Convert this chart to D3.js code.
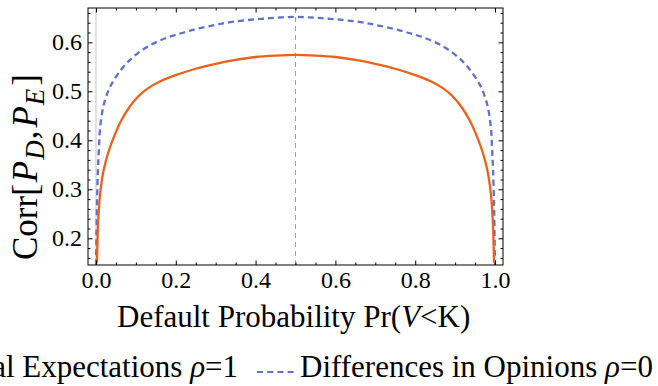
<!DOCTYPE html>
<html>
<head>
<meta charset="utf-8">
<script src="https://cdn.jsdelivr.net/npm/d3@7"></script>
<style>
  body { margin: 0; background: #fff; }
  svg { display: block; }
  text { font-family: "Liberation Serif", "Times New Roman", serif; fill: #000; }
</style>
</head>
<body>
<svg id="chart" width="658" height="386"></svg>
<script>
// tick values
const xTicks = [0, 0.2, 0.4, 0.6, 0.8, 1.0];
const yTicks = [0.2, 0.3, 0.4, 0.5, 0.6];

// rational expectations, rho = 1 (solid orange)
const rationalP = [0.0025, 0.005, 0.0075, 0.01, 0.015, 0.02, 0.03, 0.043, 0.063, 0.084, 0.105, 0.13, 0.16, 0.2, 0.25, 0.3, 0.35, 0.4, 0.45, 0.5,
  0.55, 0.6, 0.65, 0.7, 0.75, 0.8, 0.84, 0.87, 0.895, 0.916, 0.937, 0.957, 0.97, 0.98, 0.985, 0.99, 0.9925, 0.995, 0.9975];
const rationalCorr = [0.150, 0.225, 0.262, 0.288, 0.320, 0.342, 0.373, 0.403, 0.440, 0.468, 0.489, 0.506, 0.520, 0.533, 0.546, 0.556, 0.564, 0.570, 0.573, 0.5745,
  0.573, 0.570, 0.564, 0.556, 0.546, 0.533, 0.520, 0.506, 0.489, 0.468, 0.440, 0.403, 0.373, 0.342, 0.320, 0.288, 0.262, 0.225, 0.150];

// differences in opinions, rho = 0 (dashed blue)
const opinionsP = [0.0003, 0.001, 0.0025, 0.005, 0.0075, 0.01, 0.0175, 0.025, 0.034, 0.045, 0.063, 0.08, 0.105, 0.14, 0.18, 0.22, 0.256, 0.3, 0.336, 0.4, 0.45, 0.5,
  0.55, 0.6, 0.664, 0.7, 0.744, 0.78, 0.82, 0.86, 0.895, 0.92, 0.937, 0.955, 0.966, 0.975, 0.9825, 0.99, 0.9925, 0.995, 0.9975, 0.999, 0.9997];
const opinionsCorr = [0.145, 0.200, 0.270, 0.340, 0.385, 0.423, 0.466, 0.488, 0.507, 0.523, 0.544, 0.560, 0.578, 0.596, 0.610, 0.620, 0.628, 0.6355, 0.641, 0.647, 0.650, 0.652,
  0.650, 0.647, 0.641, 0.6355, 0.628, 0.620, 0.610, 0.596, 0.578, 0.560, 0.544, 0.523, 0.507, 0.488, 0.466, 0.423, 0.385, 0.340, 0.270, 0.200, 0.145];

const legendLabels = ["Rational Expectations ", "Differences in Opinions "];
const legendRho = ["1", "0"];

const orange = "#e8621e";
const blue = "#5f71c9";

let svg, x, y;

function setup() {
  svg = d3.select('#chart');
  x = d3.scaleLinear().domain([-0.02, 1.02]).range([88, 503]);
  y = d3.scaleLinear().domain([0.1455, 0.67]).range([265, 8]);

  svg.append('defs').append('clipPath').attr('id', 'frame-clip')
    .append('rect')
    .attr('x', 88).attr('y', 8)
    .attr('width', 415).attr('height', 257);
}

function drawGuides() {
  // vertical axis line at x = 0
  svg.append('line')
    .attr('x1', x(0)).attr('x2', x(0))
    .attr('y1', 8).attr('y2', 265)
    .attr('stroke', '#c4c4c4')
    .attr('stroke-width', 1);
  // dashed marker at 0.5
  svg.append('line')
    .attr('x1', x(0.5)).attr('x2', x(0.5))
    .attr('y1', 8).attr('y2', 265)
    .attr('stroke', '#a0a0a0')
    .attr('stroke-width', 1)
    .attr('stroke-dasharray', '5,4');
}

function drawAxes() {
  const xMinor = d3.range(0, 1.001, 0.05).filter(v => Math.abs(v * 5 - Math.round(v * 5)) > 1e-6);
  const yMinor = d3.range(0.16, 0.665, 0.02).filter(v => Math.abs(v * 10 - Math.round(v * 10)) > 1e-6);

  const axes = [
    { gen: d3.axisBottom, scale: x, pos: 'translate(0,265)', major: xTicks, minor: xMinor, labels: true },
    { gen: d3.axisTop, scale: x, pos: 'translate(0,8)', major: xTicks, minor: xMinor, labels: false },
    { gen: d3.axisLeft, scale: y, pos: 'translate(88,0)', major: yTicks, minor: yMinor, labels: true },
    { gen: d3.axisRight, scale: y, pos: 'translate(503,0)', major: yTicks, minor: yMinor, labels: false }
  ];

  axes.forEach(a => {
    const gMajor = svg.append('g')
      .attr('transform', a.pos)
      .call(a.gen(a.scale)
        .tickValues(a.major)
        .tickSizeInner(-4.5)
        .tickSizeOuter(0)
        .tickPadding(6)
        .tickFormat(a.labels ? d3.format('.1f') : ''));
    gMajor.attr('font-family', '"Liberation Serif", serif').attr('font-size', 24);
    gMajor.select('.domain').remove();
    gMajor.selectAll('text').attr('fill', '#000');

    const gMinor = svg.append('g')
      .attr('transform', a.pos)
      .call(a.gen(a.scale)
        .tickValues(a.minor)
        .tickSizeInner(-2.5)
        .tickSizeOuter(0)
        .tickFormat(''));
    gMinor.select('.domain').remove();
  });

  svg.selectAll('.tick line').attr('stroke', '#000').attr('stroke-width', 1);

  svg.append('rect')
    .attr('x', 88).attr('y', 8)
    .attr('width', 415).attr('height', 257)
    .attr('fill', 'none')
    .attr('stroke', '#000')
    .attr('stroke-width', 1);
}

function drawLines() {
  const line = d3.line()
    .x(d => x(d[0]))
    .y(d => y(d[1]))
    .curve(d3.curveCatmullRom.alpha(0.5));

  const plot = svg.append('g').attr('clip-path', 'url(#frame-clip)');

  plot.append('path')
    .datum(d3.zip(opinionsP, opinionsCorr))
    .attr('d', line)
    .attr('fill', 'none')
    .attr('stroke', blue)
    .attr('stroke-width', 2.3)
    .attr('stroke-dasharray', '6,4');

  plot.append('path')
    .datum(d3.zip(rationalP, rationalCorr))
    .attr('d', line)
    .attr('fill', 'none')
    .attr('stroke', orange)
    .attr('stroke-width', 2.3);
}

function drawLabels() {
  // x axis title
  const xt = svg.append('text')
    .attr('x', 117)
    .attr('y', 327)
    .style('font-size', '31px');
  xt.append('tspan').text('Default Probability Pr(');
  xt.append('tspan').style('font-style', 'italic').text('V');
  xt.append('tspan').text('<K)');

  // y axis title
  const yt = svg.append('text')
    .attr('transform', 'translate(37,260) rotate(-90)')
    .style('font-size', '35px');
  yt.append('tspan').text('Corr[');
  yt.append('tspan').style('font-style', 'italic').attr('dx', 2).text('P');
  yt.append('tspan').style('font-style', 'italic').style('font-size', '27px').attr('dx', 1).attr('dy', 7).text('D');
  yt.append('tspan').attr('dy', -7).attr('dx', 1).text(',');
  yt.append('tspan').style('font-style', 'italic').attr('dx', 3).text('P');
  yt.append('tspan').style('font-style', 'italic').style('font-size', '27px').attr('dx', 1).attr('dy', 7).text('E');
  yt.append('tspan').attr('dy', -7).attr('dx', 3).text(']');
}

function drawLegend() {
  const lg = svg.append('g').attr('id', 'legend');

  // first entry, right aligned so its start runs off the left edge
  const t1 = lg.append('text')
    .attr('x', 238)
    .attr('y', 377)
    .attr('text-anchor', 'end')
    .style('font-size', '31px');
  t1.append('tspan').text(legendLabels[0]);
  t1.append('tspan').style('font-style', 'italic').text('ρ');
  t1.append('tspan').text('=' + legendRho[0]);

  lg.append('line')
    .attr('x1', -40).attr('x2', -2)
    .attr('y1', 372).attr('y2', 372)
    .attr('stroke', orange)
    .attr('stroke-width', 2);

  lg.append('line')
    .attr('x1', 257).attr('x2', 296)
    .attr('y1', 372).attr('y2', 372)
    .attr('stroke', blue)
    .attr('stroke-width', 2)
    .attr('stroke-dasharray', '6,4.2');

  const t2 = lg.append('text')
    .attr('x', 300)
    .attr('y', 377)
    .style('font-size', '31px');
  t2.append('tspan').text(legendLabels[1]);
  t2.append('tspan').style('font-style', 'italic').text('ρ');
  t2.append('tspan').text('=' + legendRho[1]);
}

function main() {
  setup();
  drawGuides();
  drawLines();
  drawAxes();
  drawLabels();
  drawLegend();
}

main();
</script>
</body>
</html>
